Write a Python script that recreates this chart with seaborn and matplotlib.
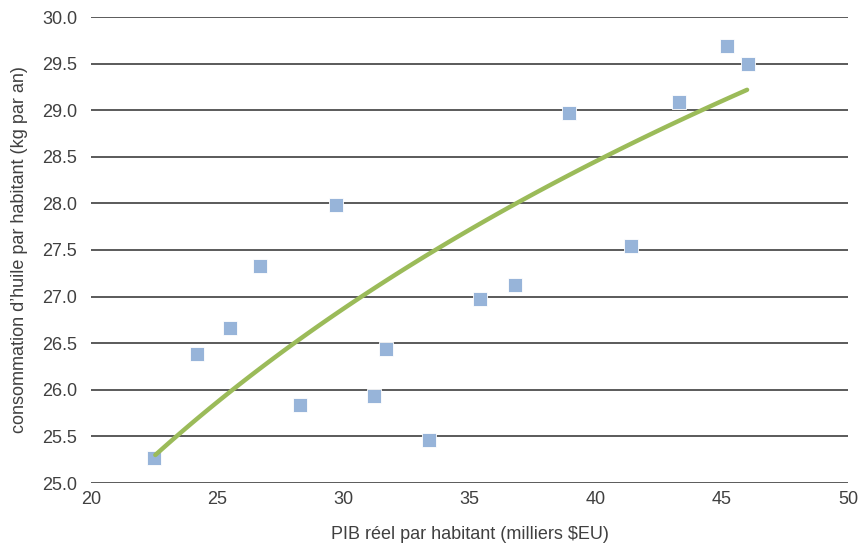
import numpy as np
import pandas as pd
import matplotlib
matplotlib.use("Agg")
import matplotlib.pyplot as plt
import seaborn as sns

# Data ------------------------------------------------------------------------
pib = [22.5, 24.2, 25.5, 26.7, 28.3, 29.7, 31.2, 31.7, 33.4, 35.4, 36.8, 38.95, 41.4, 43.3, 45.2, 46.05]
huile = [25.27, 26.38, 26.66, 27.33, 25.84, 27.98, 25.93, 26.44, 25.46, 26.97, 27.12, 28.97, 27.54, 29.09, 29.69, 29.5]
df = pd.DataFrame({"pib": pib, "huile": huile})

# points (log trend line of the original)
tend_x = [22.55, 23.26, 25.71, 28.09, 30.73, 33.7, 36.94, 40.2, 44.2, 46.0]
tend_y = [25.30, 25.5, 26.0, 26.5, 27.0, 27.5, 28.0, 28.5, 29.0, 29.22]
tend = pd.DataFrame({"pib": tend_x, "huile": tend_y})

sns.set_theme(style="white")
plt.rcParams['font.family'] = ['Liberation Sans', 'DejaVu Sans']

fig = plt.figure(figsize=(8.66, 5.45), dpi=100)
ax = fig.add_axes([91 / 866, 1 - 483 / 545, (848 - 91) / 866, (483 - 17) / 545])

# gridlines -------------------------------------------------------------------
yticks = np.arange(25.0, 30.01, 0.5)
for yv in yticks:
    ax.axhline(yv, color='#5a5a5a', lw=1.4, zorder=1)

# markers + log trend line ----------------------------------------------------
sns.scatterplot(data=df, x="pib", y="huile", marker='s', s=95, color='#97b4d9',
                edgecolor='white', linewidth=0.6, ax=ax, zorder=3)
sns.regplot(data=tend, x="pib", y="huile", logx=True, ci=None, scatter=False, ax=ax,
            line_kws=dict(color='#9bbb59', lw=3.2, zorder=4, solid_capstyle='round'))

ax.set_xlim(20, 50)
ax.set_ylim(25, 30)
ax.set_xticks(range(20, 51, 5))
ax.set_yticks(yticks)
ax.set_yticklabels([f"{v:.1f}" for v in yticks])
for s in ax.spines.values():
    s.set_visible(False)
ax.tick_params(axis='both', length=0, labelsize=13, colors='#404040')
ax.tick_params(axis='x', pad=6)
ax.tick_params(axis='y', pad=10)
ax.set_xlabel("PIB réel par habitant (milliers $EU)", fontsize=13, color='#404040', labelpad=13)
ax.set_ylabel("consommation d\u2019huile par habitant (kg par an)", fontsize=13, color='#404040', labelpad=10)

fig.savefig("out.png", dpi=100)
